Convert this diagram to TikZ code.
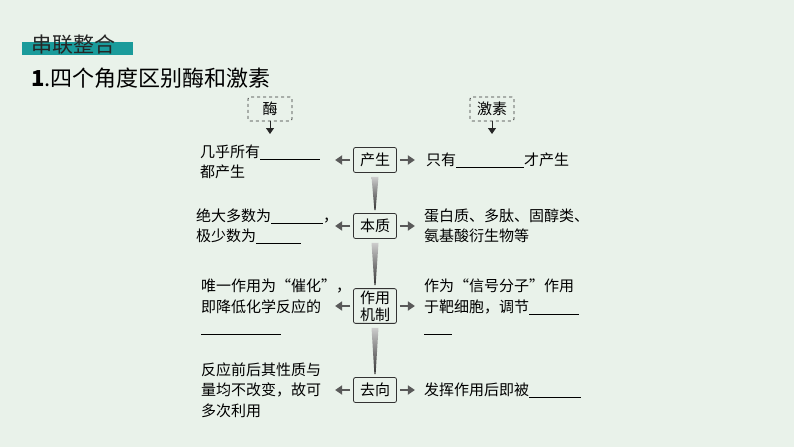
\documentclass[tikz,border=0pt]{standalone}
\usepackage{fontspec}
\setmainfont{Noto Sans CJK SC}
\usetikzlibrary{arrows.meta}
\definecolor{bg}{HTML}{E9F2EA}
\definecolor{teal}{HTML}{1A9B9B}
\newcommand{\blank}[1]{\rule[-2pt]{#1pt}{0.6pt}}
\tikzset{
  box/.style={draw=black!80,line width=0.8pt,rounded corners=2pt,fill=bg,minimum width=43pt,minimum height=25pt,inner sep=2pt,font=\fontsize{15pt}{19pt}\selectfont,align=center},
  dbox/.style={box,dashed,minimum width=44pt,minimum height=24pt},
  txt/.style={anchor=west,font=\fontsize{15pt}{20.5pt}\selectfont,align=left,inner sep=0pt},
  side/.style={draw=black!65,line width=2.8pt,-{Triangle[length=7pt,width=9pt]}},
  down/.style={draw=black!85,line width=1pt,-{Triangle[length=6pt,width=8pt]}}
}
\begin{document}
\begin{tikzpicture}[x=1pt,y=-1pt]
\fill[bg] (0,0) rectangle (794,447);
\useasboundingbox (0,0) rectangle (794,447);
\fill[teal] (22,42) rectangle (133,55);
\node[anchor=west,inner sep=0pt,font=\fontsize{21pt}{21pt}\selectfont,text=black!85] (t0) at (31,45) {串联整合};
\node[anchor=west,inner sep=0pt,font=\fontsize{22pt}{22pt}\selectfont] (t1) at (31,78) {\textbf{1}.四个角度区别酶和激素};
\node[dbox] (m) at (270,109) {酶};
\node[dbox] (j) at (492,109) {激素};
\coordinate (m2) at (270,134);
\coordinate (j2) at (492,134);
\draw[down] (m.south) -- (m2);
\draw[down] (j.south) -- (j2);
\node[box] (a) at (375,160) {产生};
\node[box] (b) at (375,226) {本质};
\node[box] (c) at (375,306) {作用\\[-2pt]机制};
\node[box] (d) at (375,390) {去向};
\foreach \u/\v in {a/b,b/c,c/d}{
  \shade[top color=black!20,bottom color=black!80] ([xshift=-3.5pt,yshift=-4pt]\u.south) -- ([xshift=3.5pt,yshift=-4pt]\u.south) -- ([xshift=0.6pt,yshift=3pt]\v.north) -- ([xshift=-0.6pt,yshift=3pt]\v.north) -- cycle;
}
\foreach \n in {a,b,c,d}{
  \coordinate (\n L) at ([xshift=-18pt]\n.west);
  \coordinate (\n R) at ([xshift=18pt]\n.east);
  \draw[side] ([xshift=-3pt]\n.west) -- (\n L);
  \draw[side] ([xshift=3pt]\n.east) -- (\n R);
}
\node[txt] (a1) at (200,162) {几乎所有\blank{60}\\都产生};
\node[txt] (a2) at (426,160) {只有\blank{68}才产生};
\node[txt] (b1) at (196,226) {绝大多数为\blank{52}，\\极少数为\blank{45}};
\node[txt] (b2) at (424,226) {蛋白质、多肽、固醇类、\\氨基酸衍生物等};
\node[txt] (c1) at (201,307) {唯一作用为“催化”，\\即降低化学反应的\\\blank{80}};
\node[txt] (c2) at (424,307) {作为“信号分子”作用\\于靶细胞，调节\blank{50}\\\blank{28}};
\node[txt] (d1) at (201,390) {反应前后其性质与\\量均不改变，故可\\多次利用};
\node[txt] (d2) at (424,390) {发挥作用后即被\blank{52}};
\end{tikzpicture}
\end{document}
